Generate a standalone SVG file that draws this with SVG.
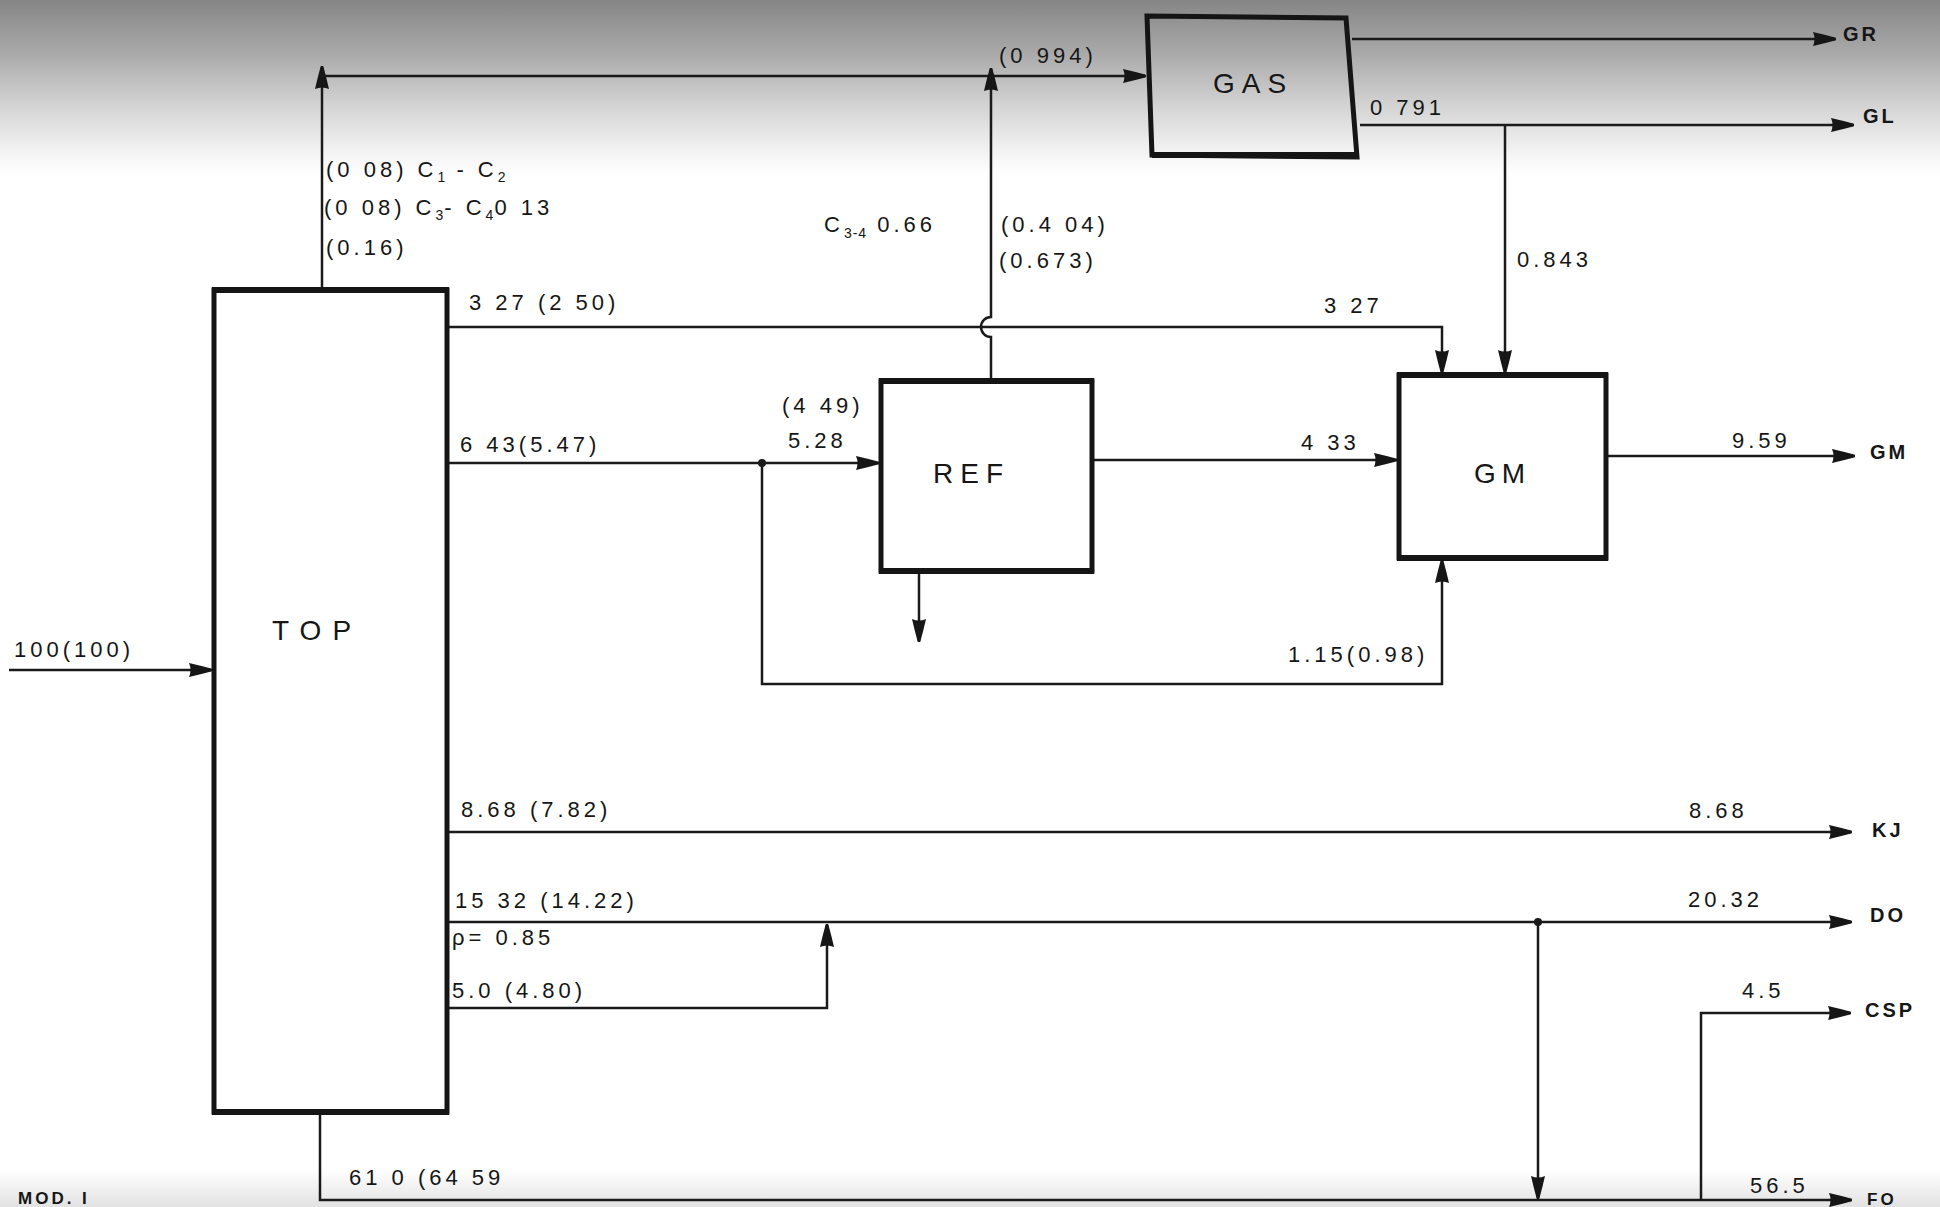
<svg xmlns="http://www.w3.org/2000/svg" width="1940" height="1207" viewBox="0 0 1940 1207">
<defs>
  <linearGradient id="bgTop" x1="0" y1="0" x2="0" y2="1">
    <stop offset="0" stop-color="#858585"/>
    <stop offset="0.3" stop-color="#a9a9a9"/>
    <stop offset="0.6" stop-color="#d3d3d3"/>
    <stop offset="0.85" stop-color="#f1f1f1"/>
    <stop offset="1" stop-color="#ffffff"/>
  </linearGradient>
  <linearGradient id="bgBot" x1="0" y1="0" x2="0" y2="1">
    <stop offset="0" stop-color="#ffffff"/>
    <stop offset="1" stop-color="#e2e2e2"/>
  </linearGradient>
  <marker id="arr" viewBox="0 0 24 16" refX="23" refY="8" markerWidth="24" markerHeight="16" markerUnits="userSpaceOnUse" orient="auto">
    <path d="M0,1 Q11,3.5 22,6.5 Q24,8 22,9.5 Q11,12.5 0,15 Q3,8 0,1 Z" fill="#161616"/>
  </marker>
  <style>
    .box { fill: none; stroke: #151515; stroke-width: 5; stroke-linejoin: miter; }
    .edge { fill: none; stroke: #151515; stroke-width: 6; }
    .ca { fill: none; stroke: #1a1a1a; stroke-width: 2.5; marker-end: url(#arr); }
    .dot { fill: #1a1a1a; }
    .lbl { font-family: "Liberation Sans", Arial, sans-serif; font-size: 22px; letter-spacing: 4px; fill: #161616; }
    .sub { font-size: 14px; letter-spacing: 1px; }
    .node { font-family: "Liberation Sans", Arial, sans-serif; font-size: 28px; fill: #161616; }
    .out { font-family: "Liberation Sans", Arial, sans-serif; font-size: 20px; font-weight: bold; letter-spacing: 3px; fill: #161616; }
  </style>
</defs>

<rect x="0" y="0" width="1940" height="1207" fill="#ffffff"/>
<rect x="0" y="0" width="1940" height="175" fill="url(#bgTop)"/>
<rect x="0" y="1170" width="1940" height="37" fill="url(#bgBot)"/>

<g id="connectors">
  <path class="ca" d="M9,670 H212"/>
  <path class="ca" d="M322,290 V66"/>
  <path class="ca" d="M322,76 H1146"/>
  <path class="ca" d="M991,381 V337 A10,10 0 0 1 991,317 V68"/>
  <path class="ca" d="M1352,39 H1836"/>
  <path class="ca" d="M1360,125 H1854"/>
  <path class="ca" d="M1505,125 V373"/>
  <path class="ca" d="M447,327 H1442 V373"/>
  <path class="ca" d="M447,463 H879"/>
  <path class="ca" d="M762,463 V684 H1442 V560"/>
  <path class="ca" d="M919,571 V642"/>
  <path class="ca" d="M1092,460 H1397"/>
  <path class="ca" d="M1606,456 H1855"/>
  <path class="ca" d="M447,832 H1852"/>
  <path class="ca" d="M447,922 H1852"/>
  <path class="ca" d="M447,1008 H827 V924"/>
  <path class="ca" d="M1538,922 V1199"/>
  <path class="ca" d="M320,1112 V1200 H1852"/>
  <path class="ca" d="M1701,1200 V1013 H1851"/>
  <circle class="dot" cx="762" cy="463" r="4"/>
  <circle class="dot" cx="1538" cy="922" r="4"/>
</g>

<g id="node-top">
  <rect class="box" x="214" y="290" width="233" height="822"/>
  <path class="edge" d="M212,290 H449 M212,1112 H449"/>
  <text class="node" x="272" y="640" style="letter-spacing:11px">TOP</text>
</g>

<g id="node-gas">
  <polygon class="box" points="1147,16 1346,18 1357,157 1152,155"/>
  <path class="edge" d="M1152,155 H1358"/>
  <text class="node" x="1213" y="93" style="letter-spacing:7px">GAS</text>
</g>

<g id="node-ref">
  <rect class="box" x="881" y="381" width="211" height="190"/>
  <path class="edge" d="M879,381 H1094 M879,571 H1094"/>
  <text class="node" x="933" y="483" style="letter-spacing:7px">REF</text>
</g>

<g id="node-gm">
  <rect class="box" x="1399" y="375" width="207" height="183"/>
  <path class="edge" d="M1397,375 H1608 M1397,558 H1608"/>
  <text class="node" x="1474" y="483" style="letter-spacing:6px">GM</text>
</g>

<g id="labels">
  <text class="lbl" x="14" y="657">100(100)</text>
  <text class="lbl" x="999" y="63">(0 994)</text>
  <text class="lbl" x="326" y="177">(0 08) C<tspan class="sub" dy="5">1</tspan><tspan dy="-5"> - C</tspan><tspan class="sub" dy="5">2</tspan></text>
  <text class="lbl" x="324" y="215">(0 08) C<tspan class="sub" dy="5">3</tspan><tspan dy="-5">- C</tspan><tspan class="sub" dy="5">4</tspan><tspan dy="-5">0 13</tspan></text>
  <text class="lbl" x="326" y="255">(0.16)</text>
  <text class="lbl" x="824" y="232">C<tspan class="sub" dy="6">3-4</tspan><tspan dy="-6"> 0.66</tspan></text>
  <text class="lbl" x="1001" y="232">(0.4 04)</text>
  <text class="lbl" x="999" y="268">(0.673)</text>
  <text class="lbl" x="1370" y="115">0 791</text>
  <text class="lbl" x="1517" y="267">0.843</text>
  <text class="lbl" x="469" y="310">3 27 (2 50)</text>
  <text class="lbl" x="1324" y="313">3 27</text>
  <text class="lbl" x="782" y="413">(4 49)</text>
  <text class="lbl" x="788" y="448">5.28</text>
  <text class="lbl" x="460" y="452">6 43(5.47)</text>
  <text class="lbl" x="1301" y="450">4 33</text>
  <text class="lbl" x="1732" y="448">9.59</text>
  <text class="lbl" x="1288" y="662">1.15(0.98)</text>
  <text class="lbl" x="461" y="817">8.68 (7.82)</text>
  <text class="lbl" x="1689" y="818">8.68</text>
  <text class="lbl" x="455" y="908">15 32 (14.22)</text>
  <text class="lbl" x="452" y="945">ρ= 0.85</text>
  <text class="lbl" x="1688" y="907">20.32</text>
  <text class="lbl" x="452" y="998">5.0 (4.80)</text>
  <text class="lbl" x="1742" y="998">4.5</text>
  <text class="lbl" x="349" y="1185">61 0 (64 59</text>
  <text class="lbl" x="1750" y="1193">56.5</text>
  <text class="out" x="18" y="1204" style="font-size:17px">MOD. I</text>
</g>

<g id="outputs">
  <text class="out" x="1843" y="41">GR</text>
  <text class="out" x="1863" y="123">GL</text>
  <text class="out" x="1870" y="459">GM</text>
  <text class="out" x="1872" y="837">KJ</text>
  <text class="out" x="1870" y="922">DO</text>
  <text class="out" x="1865" y="1017">CSP</text>
  <text class="out" x="1867" y="1205" style="font-size:17px">FO</text>
</g>
</svg>
